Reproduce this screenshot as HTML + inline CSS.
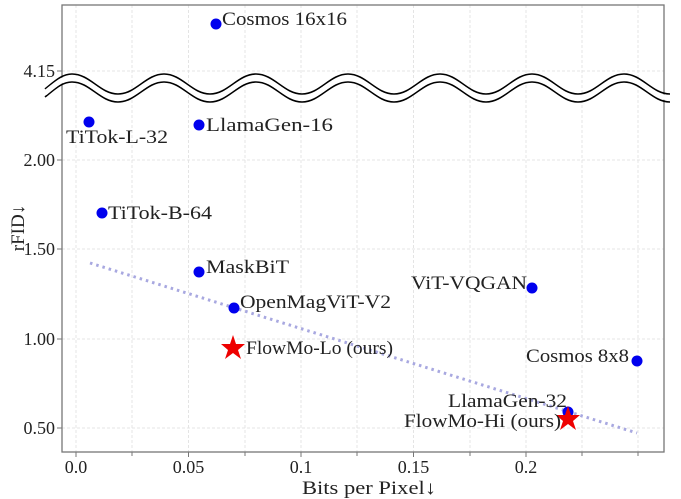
<!DOCTYPE html>
<html><head><style>body{margin:0;background:#fff}svg{display:block}text{font-family:"Liberation Serif",serif;fill:#222}</style></head>
<body>
<svg width="681" height="499" xmlns="http://www.w3.org/2000/svg">
<g stroke="#e4e4e4" stroke-width="1" stroke-dasharray="3,2">
<line x1="76" y1="5" x2="76" y2="452"/><line x1="132" y1="5" x2="132" y2="452"/><line x1="188.5" y1="5" x2="188.5" y2="452"/><line x1="245" y1="5" x2="245" y2="452"/><line x1="301" y1="5" x2="301" y2="452"/><line x1="357" y1="5" x2="357" y2="452"/><line x1="413.5" y1="5" x2="413.5" y2="452"/><line x1="470" y1="5" x2="470" y2="452"/><line x1="526" y1="5" x2="526" y2="452"/><line x1="582" y1="5" x2="582" y2="452"/><line x1="638" y1="5" x2="638" y2="452"/>
<line x1="62" y1="428" x2="664" y2="428"/><line x1="62" y1="339" x2="664" y2="339"/><line x1="62" y1="249" x2="664" y2="249"/><line x1="62" y1="160" x2="664" y2="160"/><line x1="62" y1="71" x2="664" y2="71"/>
</g>
<rect x="62" y="5" width="602" height="447" fill="none" stroke="#777" stroke-width="1.3"/>
<g stroke="#777" stroke-width="1">
<line x1="76" y1="452" x2="76" y2="457"/><line x1="132" y1="452" x2="132" y2="456"/><line x1="188.5" y1="452" x2="188.5" y2="457"/><line x1="245" y1="452" x2="245" y2="456"/><line x1="301" y1="452" x2="301" y2="457"/><line x1="357" y1="452" x2="357" y2="456"/><line x1="413.5" y1="452" x2="413.5" y2="457"/><line x1="470" y1="452" x2="470" y2="456"/><line x1="526" y1="452" x2="526" y2="457"/><line x1="582" y1="452" x2="582" y2="456"/><line x1="638" y1="452" x2="638" y2="456"/>
<line x1="57" y1="428" x2="62" y2="428"/><line x1="57" y1="339" x2="62" y2="339"/><line x1="57" y1="249" x2="62" y2="249"/><line x1="57" y1="160" x2="62" y2="160"/><line x1="57" y1="71" x2="62" y2="71"/>
</g>
<g font-size="18" text-anchor="middle">
<text x="76" y="473">0.0</text><text x="188.5" y="473">0.05</text><text x="301" y="473">0.1</text><text x="413.5" y="473">0.15</text><text x="526" y="473">0.2</text>
</g>
<text x="302" y="494" font-size="19" textLength="134" lengthAdjust="spacingAndGlyphs">Bits per Pixel↓</text>
<g font-size="18" text-anchor="end">
<text x="55" y="434">0.50</text><text x="55" y="345">1.00</text><text x="55" y="255">1.50</text><text x="55" y="166">2.00</text><text x="55" y="77">4.15</text>
</g>
<text x="0" y="0" font-size="19" text-anchor="middle" transform="translate(24,228) rotate(-90)">rFID↓</text>
<g fill="none" stroke-width="1.6">
<path d="M45,93 C55,85 62,78 72,78 C90,78 100,98 118,98 C136,98 146,78 164,78 C182,78 192,98 210,98 C228,98 238,78 256,78 C274,78 284,98 302,98 C320,98 330,78 348,78 C366,78 376,98 394,98 C412,98 422,78 440,78 C458,78 468,98 486,98 C504,98 514,78 532,78 C550,78 560,98 578,98 C596,98 606,78 624,78 C642,78 652,98 670,98" stroke="#000" transform="translate(0,-4)"/>
<path d="M45,93 C55,85 62,78 72,78 C90,78 100,98 118,98 C136,98 146,78 164,78 C182,78 192,98 210,98 C228,98 238,78 256,78 C274,78 284,98 302,98 C320,98 330,78 348,78 C366,78 376,98 394,98 C412,98 422,78 440,78 C458,78 468,98 486,98 C504,98 514,78 532,78 C550,78 560,98 578,98 C596,98 606,78 624,78 C642,78 652,98 670,98" stroke="#000" transform="translate(0,4)"/>
<path d="M45,93 C55,85 62,78 72,78 C90,78 100,98 118,98 C136,98 146,78 164,78 C182,78 192,98 210,98 C228,98 238,78 256,78 C274,78 284,98 302,98 C320,98 330,78 348,78 C366,78 376,98 394,98 C412,98 422,78 440,78 C458,78 468,98 486,98 C504,98 514,78 532,78 C550,78 560,98 578,98 C596,98 606,78 624,78 C642,78 652,98 670,98" stroke="#fff" stroke-width="5"/>
</g>
<line x1="90" y1="263" x2="637" y2="433" stroke="#a8a8e0" stroke-width="3" stroke-dasharray="2.5,4"/>
<g fill="#0000ee">
<circle cx="216" cy="24" r="5.5"/><circle cx="89" cy="122" r="5.5"/><circle cx="199" cy="125" r="5.5"/><circle cx="102" cy="213" r="5.5"/><circle cx="199" cy="272" r="5.5"/><circle cx="234" cy="308" r="5.5"/><circle cx="532" cy="288" r="5.5"/><circle cx="637" cy="361" r="5.5"/><circle cx="568" cy="412" r="5.5"/>
</g>
<g fill="#ee0000">
<polygon points="233,335 236,344 245,344 238,350 241,359 233,353 225,359 228,350 221,344 230,344"/>
<polygon points="568,406 571,415 580,415 573,421 576,430 568,424 560,430 563,421 556,415 565,415"/>
</g>
<g font-size="19" lengthAdjust="spacingAndGlyphs">
<text x="222" y="25" textLength="125" lengthAdjust="spacingAndGlyphs">Cosmos 16x16</text>
<text x="66" y="143" textLength="102" lengthAdjust="spacingAndGlyphs">TiTok-L-32</text>
<text x="206" y="131" textLength="127" lengthAdjust="spacingAndGlyphs">LlamaGen-16</text>
<text x="108" y="219" textLength="104" lengthAdjust="spacingAndGlyphs">TiTok-B-64</text>
<text x="206" y="273" textLength="83" lengthAdjust="spacingAndGlyphs">MaskBiT</text>
<text x="240" y="308" textLength="151" lengthAdjust="spacingAndGlyphs">OpenMagViT-V2</text>
<text x="411" y="289" textLength="116" lengthAdjust="spacingAndGlyphs">ViT-VQGAN</text>
<text x="526" y="362" textLength="103" lengthAdjust="spacingAndGlyphs">Cosmos 8x8</text>
<text x="246" y="354" textLength="147" lengthAdjust="spacingAndGlyphs">FlowMo-Lo (ours)</text>
<text x="448" y="407" textLength="119" lengthAdjust="spacingAndGlyphs">LlamaGen-32</text>
<text x="404" y="427" textLength="157" lengthAdjust="spacingAndGlyphs">FlowMo-Hi (ours)</text>
</g>
</svg>
</body></html>
